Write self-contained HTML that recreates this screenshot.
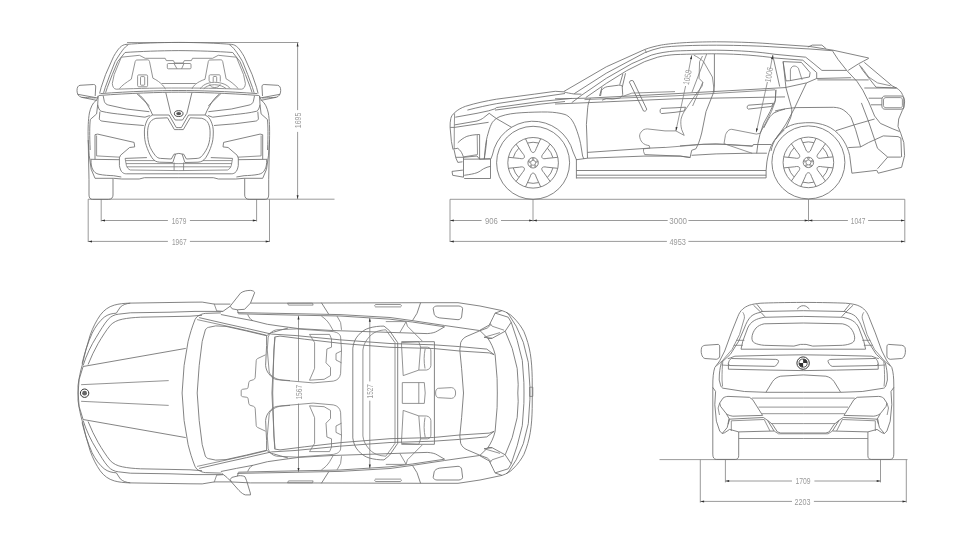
<!DOCTYPE html>
<html><head><meta charset="utf-8">
<style>
html,body{margin:0;padding:0;background:#fff;}
body{width:967px;height:546px;overflow:hidden;font-family:"Liberation Sans",sans-serif;}
svg{display:block;position:absolute;left:0;top:0;will-change:transform;transform:translateZ(0);}
.d{stroke:#808080;stroke-width:.8;fill:none;}
.c{stroke:#6e6e6e;stroke-width:.85;fill:none;stroke-linejoin:round;stroke-linecap:butt;}
.l{stroke:#787878;stroke-width:.8;fill:none;stroke-linejoin:round;stroke-linecap:butt;}
.a{fill:#2e2e2e;stroke:none;}
text{font-family:"Liberation Sans",sans-serif;font-size:8.6px;fill:#9a9a9a;text-anchor:middle;}
</style></head><body>
<svg width="967" height="546" viewBox="0 0 967 546">
<defs>
<path id="ar" d="M0 0L3.8 -1L3.8 1Z"/>
</defs>
<!-- ===== DIMENSIONS: FRONT ===== -->
<g id="dimFront">
<path class="d" d="M127 42.5H298.5M88.2 199.2H334.5M88.2 199.2V242M269.5 199.2V242M101.2 199.2V221.5M256.6 199.2V221.5M297.6 42.5V110.1M297.6 131.9V199"/>
<path class="d" d="M101.2 220.5H167.9M189.9 220.5H256.6M88.2 241.4H167.9M189.9 241.4H269.5"/>
<use href="#ar" class="a" transform="translate(101.2 220.5) rotate(0)"/>
<use href="#ar" class="a" transform="translate(256.6 220.5) rotate(180)"/>
<use href="#ar" class="a" transform="translate(88.2 241.4) rotate(0)"/>
<use href="#ar" class="a" transform="translate(269.5 241.4) rotate(180)"/>
<use href="#ar" class="a" transform="translate(297.6 42.7) rotate(90)"/>
<use href="#ar" class="a" transform="translate(297.6 199) rotate(-90)"/>
<text x="179" y="223.6" textLength="14.7" lengthAdjust="spacingAndGlyphs">1679</text>
<text x="179.3" y="244.5" textLength="14.7" lengthAdjust="spacingAndGlyphs">1967</text>
<text transform="translate(301 120.4) rotate(-90)" textLength="15.6" lengthAdjust="spacingAndGlyphs">1695</text>
</g>
<!-- ===== DIMENSIONS: SIDE ===== -->
<g id="dimSide">
<path class="d" d="M450 199.3H904.8M450 199.3V242M904.8 199.3V242.4M533 199.3V221.5M808.5 199.3V221.5"/>
<path class="d" d="M450 220.5H481.6M501 220.5H667.7M688.4 220.5H847.9M868.1 220.5H904.8M450 241.4H666.9M688.4 241.4H904.8"/>
<use href="#ar" class="a" transform="translate(450 220.5) rotate(0)"/>
<use href="#ar" class="a" transform="translate(533 220.5) rotate(180)"/>
<use href="#ar" class="a" transform="translate(533 220.5) rotate(0)"/>
<use href="#ar" class="a" transform="translate(808.5 220.5) rotate(180)"/>
<use href="#ar" class="a" transform="translate(808.5 220.5) rotate(0)"/>
<use href="#ar" class="a" transform="translate(904.8 220.5) rotate(180)"/>
<use href="#ar" class="a" transform="translate(450 241.4) rotate(0)"/>
<use href="#ar" class="a" transform="translate(904.8 241.4) rotate(180)"/>
<text x="491.4" y="223.6" textLength="12.9" lengthAdjust="spacingAndGlyphs">906</text>
<text x="678.2" y="223.6" textLength="17.7" lengthAdjust="spacingAndGlyphs">3000</text>
<text x="858.1" y="223.6" textLength="14.7" lengthAdjust="spacingAndGlyphs">1047</text>
<text x="677.7" y="244.5" textLength="16.5" lengthAdjust="spacingAndGlyphs">4953</text>
</g>
<!-- ===== DIMENSIONS: REAR ===== -->
<g id="dimRear">
<path class="d" d="M659.5 459.6H907.5M700.3 459.6V502.6M906.3 459.6V502.6M725.4 459.6V482.4M880.5 459.6V482.4"/>
<path class="d" d="M725.4 481H792M814.4 481H880.5M700.3 501.4H792M813.9 501.4H906.3"/>
<use href="#ar" class="a" transform="translate(725.4 481) rotate(0)"/>
<use href="#ar" class="a" transform="translate(880.5 481) rotate(180)"/>
<use href="#ar" class="a" transform="translate(700.3 501.4) rotate(0)"/>
<use href="#ar" class="a" transform="translate(906.3 501.4) rotate(180)"/>
<text x="803" y="484.1" textLength="15.1" lengthAdjust="spacingAndGlyphs">1709</text>
<text x="802.5" y="504.5" textLength="16" lengthAdjust="spacingAndGlyphs">2203</text>
</g>
<!-- ===== DIMENSIONS: TOP ===== -->
<g id="dimTop">
<path class="d" d="M298.5 315.8V381.4M298.5 403.6V471.8M369.8 318V381.4M369.8 400.7V468.4"/>
<use href="#ar" class="a" transform="translate(298.5 315.8) rotate(90)"/>
<use href="#ar" class="a" transform="translate(298.5 471.8) rotate(-90)"/>
<use href="#ar" class="a" transform="translate(369.8 318) rotate(90)"/>
<use href="#ar" class="a" transform="translate(369.8 468.4) rotate(-90)"/>
<text transform="translate(301.6 392.2) rotate(-90)" textLength="14.8" lengthAdjust="spacingAndGlyphs">1567</text>
<text transform="translate(373.2 391.3) rotate(-90)" textLength="14.2" lengthAdjust="spacingAndGlyphs">1527</text>
</g>
<!-- CARS -->
<g id="front" class="c">
<g id="fh">
<!-- roof + A pillar -->
<path d="M178.85 42.4C160 42.5 140 43.2 126 44.4C121.5 44.9 118.5 48 113.6 56.5L105.6 74.5L101.2 87.3L99.6 93.5"/>
<path d="M128.3 44.7C124.5 47 121.3 51.4 115.1 61.6L110 74.5L105.3 87.3L103.6 92.8"/>
<path d="M178.85 50.6C160 50.7 140 51.4 125 52.5L117.7 61.6L112.3 74.5L107.4 87.3L105.6 92.6"/>
<!-- headliner / inner windshield edge -->
<path class="l" d="M121.3 57.2L139.4 55.3L145.2 58.3L165.2 58.3L166.3 60.6L173.4 60.6L174.6 63L178.85 63"/>
<path class="l" d="M121.3 57.2L114.2 74.5L112.3 83.4C112.5 87 114 89 116.2 89.2"/>
<!-- windshield bottom -->
<path class="l" d="M116.2 89.2C140 88.3 160 88 178.85 88"/>
<path d="M100.4 93.6C130 91.4 160 90.5 178.85 90.5"/>
<path d="M98.8 95.5C130 93.2 160 92.2 178.85 92.2"/>
<!-- mirror -->
<path d="M95.6 98C90 97.8 84 97.5 81.5 97.3C78.5 96.5 77 94 77 90.5C77 87.5 78 85.6 80 85.3L93.5 84.5C95.2 84.5 95.8 85.5 95.7 87L95.2 96"/>
<path d="M77.7 94.3L97.7 98"/>
<path d="M81.5 97.3L97 100.4"/>
<!-- fender / body side -->
<path d="M98.2 95.8C97.5 98 97 99.5 96 100.5C92.5 103 90.5 108 89.4 113C88.2 120 87.9 128 88.2 140L89.2 155.2L91.2 169.3L95 178.3"/>
<path d="M97.7 104.6L96.6 113.9L90.3 119.5C89.6 126 89.5 135 90.2 150"/>
<!-- hood edge / headlight -->
<path d="M98.2 95.8L97.7 104.6C98.3 108 99.5 110.5 101 111.2C108 113 116 113.8 123 114.5L145 117.2L149.8 115.5"/>
<path d="M103.2 95.8L104.3 101.3C105 103.5 106.5 104.6 108.7 105.1L126.3 109L149.3 111.7"/>
<path d="M99.9 111.7L99.3 118.9C99.8 120.3 100.8 120.9 102.1 121.1L123 123.8L143.8 125.5"/>
<path d="M138.4 94.1C141.5 96.5 144 99.5 146 102.4L150.4 110L152.6 115"/>
<path d="M136.8 93.6L149.5 106"/>
<!-- hood centre crease around logo -->
<path d="M165.8 92.7L170.8 113.4L175.2 120L178.85 120"/>
<!-- kidney grille -->
<path d="M152.6 115L169.1 115L176.3 127.6L178.85 127.6"/>
<path d="M152.6 115C149.5 116.5 147.8 118.5 146.8 121C145 125 144.4 128 144.4 132C144.4 138 145 142 146.3 145.5C147.5 149.5 149.5 154 152 157.8C154 160.5 156 162 159.7 162.2L172.8 162.5L175.6 154L178.85 153.4"/>
<path d="M155.9 118.3L167.5 117.8L174.4 129.6L178.85 129.6"/>
<path d="M155.9 118.3C152.5 119.3 150.5 121 149.3 123.5C148 126.5 147.6 129 147.6 133C147.6 138 148.2 141.5 149.3 145C150.5 148.5 152.5 152 155.3 155.5C157 157.5 158.5 158.3 160.5 158.4L171.3 159L174 154.2L175.6 154"/>
<!-- air intake -->
<path d="M95 159.3L95 134.7L97.6 134.1L134.1 142.4L134.7 146.9L129.6 147.5L120.6 155.2L119.4 157.8"/>
<path class="l" d="M96.6 135.5L96.6 155.9L120 157.2"/>
<!-- bumper -->
<path d="M90.5 159.3L119.4 159.7"/>
<path d="M91 159.5C91 164 91.3 166.5 92.5 169C94 172.3 96 173.6 99 174.3C104 175.3 109 175.5 113.6 175.7L121.3 177"/>
<path d="M95 178.3L113.6 178.3L121.9 179L139.2 179L144.4 177.7L178.85 177.7"/>
<!-- lower grille -->
<path d="M119.4 157.8L119.4 165.5C120 169 121 171.5 122.6 172.6C124 173.6 125 173.8 126.4 173.8L178.85 173.8"/>
<path d="M125.1 158.4L146.9 157.6"/>
<path class="l" d="M125.1 158.4L126.4 165.5C127 167.5 128.3 169.3 130.3 170L178.85 170.6"/>
<path class="l" d="M125.8 160.6L155 160.6M126 163.6L178.85 163.6M127 166.8L178.85 166.8"/>
<path class="l" d="M174.1 162.5L174.1 170.6"/>
<!-- tyre -->
<path d="M88.2 140L88.6 160L89 179.6L89 195C89 198 90.5 199.4 92.4 199.4L108.5 199.4C111.5 199.4 113 197.5 113 195L113 178.5"/>
</g>
<use href="#fh" transform="translate(357.7 0) scale(-1 1)"/>
<!-- rear-view mirror -->
<path class="l" d="M168.3 63.5H190C190.8 63.5 191 64 191 64.6V67.8C191 68.5 190.6 68.8 190 68.8H168.3C167.6 68.8 167.3 68.4 167.3 67.8V64.6C167.3 63.9 167.7 63.5 168.3 63.5ZM174 63.5L177 68.8M184 63.5L181.6 68.8"/>
<!-- left seat -->
<path class="l" d="M119.4 88.6C122 85.5 126 82.5 131.3 79.2L135.2 61.5C135.5 60.4 136 60.1 137 60L147.5 59.8C148.6 59.8 149.2 60.4 149.5 61.5L152.9 78.2C157 80 160.5 82.9 162.5 85C164 86.8 165 88 165.4 89.2"/>
<path class="l" d="M139 74.9H146.3C147.2 74.9 147.6 75.4 147.6 76.3V85.3C147.6 86.3 147.2 86.8 146.3 86.8H139C138 86.8 137.6 86.3 137.6 85.3V76.3C137.6 75.4 138 74.9 139 74.9Z"/>
<path class="l" d="M141.3 76.6H143.9C144.5 76.6 144.7 77 144.7 77.5V84.3C144.7 84.9 144.4 85.2 143.9 85.2H141.3C140.7 85.2 140.5 84.8 140.5 84.3V77.5C140.5 76.9 140.8 76.6 141.3 76.6Z"/>
<!-- right seat -->
<path class="l" d="M192.1 88.8C192.8 87 194 85.5 195.7 84.1C198 82.3 201 80.6 205 79.3L208.3 61.5C208.5 60.4 209 60.1 210 60L220.7 59.8C221.8 59.8 222.4 60.4 222.7 61.5L226.1 78.8C230 81 234 84 238.3 88.6"/>
<path class="l" d="M210.5 81.9C209.5 81.9 209.1 81.4 209.1 80.4V76.3C209.1 75.3 209.6 74.8 210.5 74.8H219C219.9 74.8 220.3 75.3 220.3 76.3V81.6"/>
<path class="l" d="M213.2 81.8V77.4C213.2 76.8 213.5 76.5 214 76.5H215.9C216.5 76.5 216.7 76.9 216.7 77.4V81.8"/>
<!-- steering wheel -->
<path class="l" d="M200.3 88.8C202 85.6 207 82.4 214.4 82.3C222 82.3 227.5 85 230 88.3"/>
<path class="l" d="M203.8 88.8C205.5 86.6 209.5 84.7 214.4 84.7C219.5 84.7 223.5 86.5 226 88.5"/>
<path class="l" d="M209.7 84.2C210.5 86.6 212 87.5 214.8 87.5C217.5 87.5 219.3 86.5 220.3 84.2"/>
<!-- dash line between seats -->
<path class="l" d="M161.7 83.5H195.7"/>
<!-- logo -->
<ellipse cx="178.7" cy="113.6" rx="4.3" ry="2.9" style="stroke:#333;stroke-width:.9"/>
<ellipse cx="178.7" cy="113.6" rx="2.5" ry="1.6" style="fill:#555;stroke:none"/>
</g>

<g id="side" class="c">
<!-- ==== front end ==== -->
<path d="M454.6 112.7C458 109.5 461.5 107.8 465.5 106.3C476 103 486 101 496.3 99.2L534.7 94.1L555.3 91.3L563.3 91.8"/>
<path d="M467.4 110.1C478 107.3 488 105.3 496.3 103.7L534.7 97.9L565 93.5"/>
<path d="M455.3 117.2L477 113.3L488.6 110.8L495 108.8L496.3 107.6L540 101.5L571.7 98.4"/>
<path d="M495 110.1L540 104.2L565 101.5"/>
<path d="M454.6 112.7C452.5 114.5 451.2 116.5 450.8 118.5C450.2 121.5 450 124 450.1 127.4L451.4 141.5L453 149.5"/>
<path class="l" d="M454.6 113.3L454.3 128L454.2 149"/>
<path d="M450.1 127.4L454.6 127.4L488.6 122.3"/>
<path d="M454.6 124.9L477 121C480 120 482 119 483.5 117.8L489.2 113.3"/>
<path d="M489.2 113.3L496.3 118.5L511.7 127.4"/>
<!-- side air intake -->
<path d="M457.8 142.8C460.5 140 463.5 137.8 466.8 136.4C470.5 135.2 475 134.6 479.6 134.5L479.6 159.2"/>
<path class="l" d="M477.2 135L477.5 154.6L464 156.8"/>
<!-- front bumper -->
<path d="M453.3 149L457.8 148.3C460 150 461.5 152 462.3 154.1L463.6 157.3"/>
<path d="M454 149.5L455.9 158L457.8 162.4L462.5 161.8"/>
<path d="M455.9 157.3L463.6 157.3L477 156L479.6 159.2L490.5 158.7"/>
<path d="M463.5 157.3L463.5 177.2"/>
<path d="M463.6 159.2L490.5 159L490.5 178.5L464.2 178.5"/>
<path d="M464.2 175.3C470 174.5 474 173.8 477 172.7C480 171.5 481.5 170 483.5 168.8C486 167.5 488 166.8 490.5 166.3"/>
<path d="M452 171.4L462.9 170.1M452 171.4L452.7 175.3L463.6 177.2"/>
<path d="M486.7 140L485.6 150L484.1 159.2"/>
<!-- front fender arch & wheel arch -->
<path d="M484.5 159C484.8 150 486 140 488 133.8C489.5 128 491 124.5 492.4 122.3C494.5 119.5 497 117.8 500.1 116.5C507 114 514 113.2 521.9 112.7C530 112.2 540 111.9 547.6 112C554 112.2 560 113 565 114.5C569 116 572.5 119.5 575.5 127C578 133.5 579.5 138.5 580.6 143.7L582.6 156L583.9 159"/>
<path d="M490.8 159L492.4 155A41.4 41.4 0 0 1 573.1 152L576.4 159.7"/>
<!-- sill -->
<path d="M576.4 159L576.4 178.5M576.4 170.5H766.1M576.4 175.2H766.1M576.4 177.9H766.1"/>
<path d="M576.6 159.7L587.5 158.2L644 156.1L680.2 156.1L690.3 157.5"/>
<path d="M766.1 177.9L766.1 170.5L766.9 161.9C768 155 769.5 150 771.2 145.9C773 142 775.5 138.5 778.5 135.8L784.2 130"/>
<!-- door bottom -->
<path d="M587.5 152.4L649.8 148.1L665 147.4"/>
<path d="M644.7 154.6L680.2 156.1L690.1 157.5L691.7 150.3L695.9 148.8C698 145 700 140 701.7 133L706 111.6L713.1 93.7L714.4 86L714.4 54"/>
<path d="M680 145.9L698.8 144.5L716.2 143.8L726.3 144.5L752.4 145.9L753.8 144.5L771.2 144.5"/>
<path d="M691.6 155.3L716.2 153.9L750.9 153.2L766.9 153.2"/>
<!-- front door cut -->
<path d="M590.3 98.2C588.8 101.5 588 104.5 587.7 107.8L586.4 124.5L587 140L587.5 158.2"/>
<!-- A pillar, roof -->
<path d="M563.3 91.8L606.3 66.8L644.7 49.5C650 47.5 656 46 661.4 45C672 43.2 690 41.9 716.3 41.8C740 41.9 760 42.8 775 44.1L810.1 46.5L833.6 50.3L868.7 58"/>
<path d="M574.2 93.7L606.3 73.2L644.7 52.7C650 50.5 656 48.8 661.4 47.5C672 45.8 695 45.2 716.3 45.2C740 45.3 760 46 775 47L810 49L833.6 50.8"/>
<path class="l" d="M644.7 49.5L646.6 52.7"/>
<path d="M571.7 102.7L581.9 95L606.3 78.3L631.9 63.6L651.2 55.2C658 53 668 51.5 675 51C690 50.4 705 50.2 716.3 50.2C740 50.4 760 52 775 54.3L805.7 57.2L813.1 63.1L821.9 70.4L846.7 70.4"/>
<path d="M585.8 97.5L606.3 83.4L626.8 70.6L644.7 61.6L657.6 57.2C664 55.6 670 54.9 675 54.6C690 54 705 53.8 716.3 53.8C740 54 760 55.8 775 58L802.8 60.2L810.1 66.7L816.7 72.6L816.7 78.5L851.1 77.7"/>
<path d="M817.4 79.9L868.7 79.9"/>
<!-- beltline -->
<path d="M555 98.8L587 98.2L675 93.7L785 87.6L806.5 82.9L816.7 78.5"/>
<path class="l" d="M584.5 99.6L675 95.8L775 89.8"/>
<path d="M555 104L587 102.7L675 98.8L785 96.9"/>
<path class="l" d="M623 96.3L631.9 93.1L675 91.6"/>
<!-- mirror -->
<path d="M599.5 96L602 87.2"/>
<path d="M600.5 96L601.5 90.3C603 88.3 605 87.2 607.2 86.7L618.6 85.2C620.8 85.1 622 85.5 622.2 86.2L622.7 94.5C622 96.5 621 97.6 619.6 98.1L612.4 99.1L606.2 98.6L602 100.2"/><path d="M563.8 91.9C567 92.8 570 93.4 574.1 94L581.4 94.2"/>
<path d="M619.7 84.7L622.9 73.8M622.3 87L625.5 73.2"/>
<!-- steering wheel -->
<path d="M629.4 82.2C629.6 80.6 632 80 633.2 80.9L646.7 109.1C646.5 111 644.5 111.6 643.5 111L629.4 82.2Z"/>
<!-- door handles -->
<path d="M675 107.8L661.4 108.4C659.6 109 659.6 112.8 661.4 113.6L675 112.3L684.2 111L685.5 107.2L675 107.8"/>
<path d="M748.3 105.2C746.8 106 746.8 108.8 748.3 109.1L771.4 106.5L773.3 103.3L748.3 105.2Z"/>
<!-- front seat -->
<path class="l" d="M675.9 130.9L665 130.9L647.3 128.9C644.5 129 642.8 129.8 642.2 130.9C640.5 132.5 639.6 134 639.6 136C639.8 138.5 640.8 140.8 642.2 142.4C644 144.5 646.5 145.2 649.2 145.6L649.9 148.2L643.5 148.8L643.5 151.4L644.7 154.6"/>
<path class="l" d="M675.9 130.9L684.2 135.4L681.7 129.6C680.8 126 680.6 122.5 681 119.3C681.8 116 683 113.5 684.2 111.6L694.5 96.3L702.2 86L702.8 82.2L699 78.3L699.6 61.6"/>
<path class="l" d="M706.7 54L691.9 92.4M699.6 61.6L702.5 56M702.8 82.2L699.6 89.8L692.6 106"/>
<path class="l" d="M693.8 55.2C698 57 701 59.5 703.5 61.6L712.4 77L714.4 92.4"/>
<!-- rear seat -->
<path class="l" d="M756.3 134.1L731.7 129.3C729.5 129.3 728 130.5 727 132C725.8 134 725.3 135 725.3 136L724 143.7L752.2 153.3"/>
<path class="l" d="M756.3 134.1L759.9 133.4L766.3 121.6L771.4 111.6L775.3 101.4L775.9 89.8"/>
<!-- floor -->
<path class="l" d="M665 147.5L703.5 144.3L724 144.3L752.2 146.3L753.5 144.3"/>
<!-- rear door cut -->
<path d="M775.9 89.8L775.3 100.2L770.1 111.6L763.7 123.2L759.9 134.7L757.9 143.7L756.7 153.3"/>
<!-- rear fender arch -->
<path d="M785 109.1C781 110 777.5 111.2 774 112.9C771 115 769 117.8 767.6 120.6L763.7 128"/>
<path d="M775 111C782 109 790 108 797 107.6L833.6 107.3C838 107.5 841.5 108.5 843.8 110.2C847 112.5 849.5 115 851.1 117.6L855.5 129.3L860.6 146.9"/>
<path d="M771 151C772 146 773.5 142 776.5 137.5C779 133.5 781.5 131 783.8 129.3C788 126 793 124.2 798.4 123.4C803 122.7 808 122.5 813.1 122.7C820 123.5 825.5 125 830.6 127.8C836 131 840.5 135.5 843.8 141C846.5 145.5 848.5 150 849.7 155.6L851.9 173.2"/>
<!-- C pillar & quarter window -->
<path d="M772.7 55.2L779.7 86.6"/>
<path d="M783.1 61.6L801.4 62.4L810.1 72.6L809.4 77L789.6 80.7L786 80.9Z"/>
<path class="l" d="M790.4 80.7L790.4 69.7C791 67.5 792.5 66 794 66C796 66 797.5 67 798.4 68.2L802.1 79.9"/>
<path d="M783.1 61.6L786 88L791.1 106.3C792.3 110 792 114 790.5 118L786 128"/>
<path d="M806.5 82.9L794 109.2L786 124L776 139"/>
<!-- shark fin -->
<path d="M807.9 47L812.3 45.1L821.9 45.1L826.2 48.8"/>
<!-- spoiler & tailgate -->
<path d="M868.7 58.4L858.5 63.8L848.2 70.4"/>
<path d="M832.8 51.4L838 59.4L846.7 70.4L857 81.4L862.8 90.2L868.7 101.9L874.6 116L880.4 123.4L892.1 128.6L899.5 131.5"/>
<path d="M859.2 64.6L862.8 70.4L876 87.2L896.5 88"/>
<path d="M864.3 62.4L892.1 85.8L896.5 88C899.5 90 901.5 92 902.4 94.6C903.8 97 904.6 99.5 904.6 101.9L903.8 108L902.4 110.2L898.7 119L898 126.4L900.9 133.7L903.8 142.5L904.6 155.6L901.6 167.3L878.2 173.2L876.8 170.3L851.9 173.2"/>
<path class="l" d="M861 66.5L868.7 77L877.5 82.9L890.7 85.8"/>
<path d="M864.3 88L896.5 88M868.7 98.2L881.9 98.2M870.9 104.8L881.9 104.8"/>
<!-- taillight -->
<path d="M885 96H901C903 96 903.8 97.5 903.8 99.5V106C903.8 108 902.8 109.2 901 109.2H885C883 109.2 881.9 108 881.9 106V99.5C881.9 97.5 883 96 885 96Z"/>
<path class="l" d="M886 97.6H900.3C901.8 97.6 902.4 98.6 902.4 100V105.4C902.4 106.8 901.8 107.7 900.3 107.7H886C884.4 107.7 883.5 106.8 883.5 105.4V100C883.5 98.6 884.4 97.6 886 97.6Z"/>
<!-- rear quarter lines -->
<path d="M835.8 130.7L854.1 124.9L874.6 119"/>
<path d="M848.2 147.6L860.6 146.9L868.7 142.5L883.3 135.9L898 136.6L900.9 138.1L901.6 157.1"/>
<path d="M861.4 102.9L868.7 122L874.6 139.5L877.5 148.3L887.7 157.1L900.9 157.1"/>
<path d="M887.7 157.1L877.5 168.8"/>
<circle cx="533.1" cy="162.8" r="36.5"/>
<circle cx="533.1" cy="162.8" r="25.3"/>
<circle cx="533.1" cy="162.8" r="5.2"/>
<circle cx="533.1" cy="162.8" r="2.5" class="l"/>
<circle cx="533.1" cy="158.9" r=".8" class="l"/>
<circle cx="529.4" cy="161.6" r=".8" class="l"/>
<circle cx="530.8" cy="166.0" r=".8" class="l"/>
<circle cx="535.4" cy="166.0" r=".8" class="l"/>
<circle cx="536.8" cy="161.6" r=".8" class="l"/>
<path d="M525.5 138.7L530.0 148.6C530.8 151.4 532.0 152.6 533.1 152.5C534.2 152.6 535.4 151.4 536.2 148.6L540.7 138.7M538.5 143.0A20.5 20.5 0 0 0 527.7 143.0M508.4 157.3L519.3 158.4C522.1 159.1 523.7 158.6 524.2 157.7C524.8 156.7 524.4 155.1 522.4 153.0L516.0 144.1M518.7 148.3A20.5 20.5 0 0 0 513.3 157.6M516.0 181.5L522.4 172.6C524.4 170.5 524.8 168.9 524.2 168.0C523.7 167.0 522.1 166.5 519.3 167.2L508.4 168.3M513.3 168.0A20.5 20.5 0 0 0 518.7 177.3M540.7 186.9L536.2 177.0C535.4 174.2 534.2 173.0 533.1 173.1C532.0 173.0 530.8 174.2 530.0 177.0L525.5 186.9M527.7 182.6A20.5 20.5 0 0 0 538.5 182.6M557.8 168.3L546.9 167.2C544.1 166.5 542.5 167.0 542.0 168.0C541.4 168.9 541.8 170.5 543.8 172.6L550.2 181.5M547.5 177.3A20.5 20.5 0 0 0 552.9 168.0M550.2 144.1L543.8 153.0C541.8 155.1 541.4 156.7 542.0 157.7C542.5 158.6 544.1 159.1 546.9 158.4L557.8 157.3M552.9 157.6A20.5 20.5 0 0 0 547.5 148.3"/>
<circle cx="808.4" cy="162.4" r="36.5"/>
<circle cx="808.4" cy="162.4" r="25.3"/>
<circle cx="808.4" cy="162.4" r="5.2"/>
<circle cx="808.4" cy="162.4" r="2.5" class="l"/>
<circle cx="808.4" cy="158.5" r=".8" class="l"/>
<circle cx="804.7" cy="161.2" r=".8" class="l"/>
<circle cx="806.1" cy="165.6" r=".8" class="l"/>
<circle cx="810.7" cy="165.6" r=".8" class="l"/>
<circle cx="812.1" cy="161.2" r=".8" class="l"/>
<path d="M800.8 138.3L805.3 148.2C806.1 151.0 807.3 152.2 808.4 152.1C809.5 152.2 810.7 151.0 811.5 148.2L816.0 138.3M813.8 142.6A20.5 20.5 0 0 0 803.0 142.6M783.7 156.9L794.6 158.0C797.4 158.7 799.0 158.2 799.5 157.2C800.1 156.3 799.7 154.7 797.7 152.6L791.3 143.7M794.0 147.9A20.5 20.5 0 0 0 788.6 157.2M791.3 181.1L797.7 172.2C799.7 170.1 800.1 168.5 799.5 167.6C799.0 166.6 797.4 166.1 794.6 166.8L783.7 167.9M788.6 167.6A20.5 20.5 0 0 0 794.0 176.9M816.0 186.5L811.5 176.6C810.7 173.8 809.5 172.6 808.4 172.7C807.3 172.6 806.1 173.8 805.3 176.6L800.8 186.5M803.0 182.2A20.5 20.5 0 0 0 813.8 182.2M833.1 167.9L822.2 166.8C819.4 166.1 817.8 166.6 817.3 167.6C816.7 168.5 817.1 170.1 819.1 172.2L825.5 181.1M822.8 176.9A20.5 20.5 0 0 0 828.2 167.6M825.5 143.7L819.1 152.6C817.1 154.7 816.7 156.3 817.3 157.2C817.8 158.2 819.4 158.7 822.2 158.0L833.1 156.9M828.2 157.2A20.5 20.5 0 0 0 822.8 147.9"/>

<!-- dimension lines inside cabin -->
<path class="d" d="M691.7 55.2L688.6 71M685.6 86L675.9 130.9M772.7 55.2L770.2 69M767.4 82L756.3 132.2"/>
<use href="#ar" class="a" transform="translate(691.7 55.4) rotate(101)"/><use href="#ar" class="a" transform="translate(675.9 130.9) rotate(-79)"/>
<use href="#ar" class="a" transform="translate(772.7 55.4) rotate(100.5)"/><use href="#ar" class="a" transform="translate(756.3 132.2) rotate(-79.5)"/>
<text style="stroke:none" transform="translate(690.2 78) rotate(-79)" textLength="14.9" lengthAdjust="spacingAndGlyphs">1058</text><text style="stroke:none" transform="translate(771.8 75.3) rotate(-80)" textLength="15.2" lengthAdjust="spacingAndGlyphs">1006</text>
</g>

<g id="top" class="c">
<g id="th">
<!-- outer body -->
<path d="M78.1 393L78 385.7C79 378 80.5 371 82.1 365.5C84.5 355 87 345 90.1 335.3C93 327 96.5 320.5 100.2 315.2C104 310 108.5 306.8 114.3 305.1C119 303.8 124 303.3 130.4 303.1L190 302.2L202.2 302.1L214.3 304.1L230.4 304.1M250.5 303.1L290 303.1L425 302.7L458 302.7L480 306L502 310.6C507 312.3 510.5 314.5 512.9 317C518 322 521.5 327 523.9 331.6C527 339 529 346 530.3 353.6C531.5 361 532 369 532.2 377.4L532.3 393"/>
<path d="M82.1 363.5C84.5 353 88 342.5 92.1 333.3C95.5 326.5 99.5 321 104.2 317.2C108 314.3 112 313.4 116.3 313.2L120.3 307.1C123 304.8 126 303.5 130.4 303.2"/>
<path d="M83.1 365.5C86.5 355 91 345.5 96.2 337.3C100 331 104 324 108.3 319.2C111 316.3 114.5 314.6 118.3 314.2L130.4 312.8L170 312.2L195 311.4L222.9 311.4"/>
<path d="M88.1 364.5C91 357 94.5 350 98.2 343.4C102 337 106 330.5 110.3 325.3C113.5 322 117.5 320.2 122.3 319.2C128 318 134 317.5 140.5 317.2L190 316.2L202 315.3"/>
<!-- hood creases -->
<path d="M83.1 366.5L185.8 348.4"/>
<path class="l" d="M81.1 384.7L168.7 380.6"/>
<path d="M83.1 366.5L79.1 379.6L78.1 393"/>
<!-- mirror -->
<path d="M237.4 309.8L238.4 313.4"/>
<path class="l" d="M214.1 303.6L216.7 310.9L222.9 311.4"/>
<!-- second body lines -->
<path d="M237.4 312.6L280 313.4L340 314.6L390 317.5L412.3 320.6L444.6 325.5L479.4 330.5"/>
<path d="M238.4 313.8L280 314.8L340 316L390 319.2L412.3 322L444.6 326.8"/>
<!-- door handles -->
<path class="l" d="M287.5 303.2L312.5 303.2L313.1 305.1L288.5 305.1Z"/>
<path class="l" d="M375.5 304.5H400.6C401.6 305 401.6 306.4 400.6 306.9H375.5C374.5 306.4 374.5 305 375.5 304.5Z"/>
<!-- windshield -->
<path d="M182.1 393L184.1 365.5L188.1 341.4C190 334 192 327 195 319.6C196.3 317.3 197.5 316 199.1 315.5C201 314.3 203 313.6 205.3 313.4L220.9 312.9"/>
<path d="M220.9 314.5L236.4 317.6L252.9 320.7L267.4 324.3L280 326.1L298.6 328.6L332.1 330.5L390 332.4L427.2 333.6C432 333.3 435 332.5 437.2 331.1L444.6 326.8"/><path d="M247.7 314.5C249 317.5 250.5 319.5 252.9 320.7"/>
<path class="l" d="M197.1 319.6L226 325.9L246.7 330.5L266.4 335.2"/>
<path d="M199.1 317.6L226 323.8L246.7 328.4L271.5 334.1L295 335.5L339.6 339.8L390 343.5L433.4 344.8L459.5 346.6L486.8 349.1L494.2 354.7"/>
<path d="M197.2 393L199.2 365.5L202.2 341.4L205.3 330C206.3 328.3 207.3 327.6 208.4 327.4L215.7 325.9L226 326.4L246.7 331L266.4 335.7"/><path d="M266.6 336C268 333.8 270.5 332.8 273.6 332.1L280.8 330L288 328"/>
<!-- roof front edge / header -->
<path d="M266.6 335.3L266.6 345.4L265.6 365.5C266 369 267 371.5 268.7 373.6C271 376.8 273.5 378.8 276.7 379.6L290 380.6"/>
<path d="M275.1 337.2L273.9 350L272.7 393"/>
<!-- IP -->
<path class="l" d="M265.6 354.8L257.5 358.6C256.5 359.2 256.2 360 256.2 361L255.2 377.5C255 378.6 254.5 379.3 253.5 379.7L250 380.8C249.2 381.2 248.9 381.8 248.8 382.6L248.1 387.3C248 388.2 247.5 388.6 246.8 388.7L242.6 389.3C241.6 389.5 241.2 390 241.2 391L241.2 393"/>
<!-- B pillar, roof rails -->
<path d="M321.4 302.7L328.7 314.2"/>
<path class="l" d="M321.4 316.1C325 318.5 327.5 321 329.6 324.3L333.3 330.7M337 316.1L340.6 322.5L341.5 329.8"/>

<path d="M274.5 337L280 336.1L304.8 339.2L342 343.5L390 347.3L433.4 348.5L459.5 351L489.3 352.9L494.2 354.7"/>
<!-- front seat -->
<path class="l" d="M267.3 350L268.2 337.1C269.5 333 272.5 330.5 276.5 329.8L296.6 328.9L333.3 331.6C338 332.5 340.3 334.5 340.6 337.1L341.5 350L340.6 373.8C339.8 378 337.5 380.3 333.3 381.1L313.1 382.9L282 380.2C275 379 270.5 376 269.2 372L267.3 350Z"/>
<path class="l" d="M309.5 334.4L329.6 334.4L331.5 339L331.5 347.2L326.9 349L326 362.8L330.5 367.4L330.5 375.6L324.1 379.3L309.5 380.2L313.1 372L314.6 368.3L314.6 342.6Z"/>
<path class="l" d="M341.5 350.9L336 353.6L336 360L341.5 362.8"/>
<path class="l" d="M274.7 337.1L271.9 393"/>
<!-- rear seat -->
<path d="M352.8 393L352.8 348.1C353.5 342.5 355.3 338.5 358.3 335.3C361.5 331.5 365 329.3 369.3 328C374 326.6 379 326.1 384 326.1L389.5 330.7L397.7 342.6L397.7 393"/>
<path class="l" d="M362.9 393L362.9 350C363.5 345.5 365 342 367.5 339C370 335.5 373 333 376.6 331.6C379.5 330.5 382.5 330 385.8 329.8L395 342.6L395 393"/>
<!-- C pillar -->
<path d="M420.6 302.7L417 313.3L412.4 320.7"/>
<path class="l" d="M385.8 321.6L404.1 321.6L406.1 321.8L399.9 332.4"/>
<path class="l" d="M406.1 321.8L407.4 326.2L414.8 333.6L422.3 341.1"/>

<path d="M479.4 330.5L489.3 325L493 317.5L495.1 313.1L502 310.6"/>
<!-- quarter window -->
<path d="M436.9 306L458.9 306C461.5 306.3 462.6 307.5 462.6 308.7L461.6 317C461 318.8 459.8 319.6 458 319.7L439.7 317.9C436.5 317.3 434.8 316 434.2 314.2L433.2 308.7C433.5 307 434.8 306.2 436.9 306Z"/>
<!-- parcel shelf, headrests -->
<path d="M401.4 341.7L434.4 341.7L434.4 393"/>
<path class="l" d="M401.4 342.6L418.8 341.7L420.6 347.2L418.8 370.1L403.2 375.6Z"/>
<path class="l" d="M420.6 347.2L427.5 347.2C429.8 347.5 430.8 348.8 430.9 351L430.9 365.5C430.6 368 429 369.6 426.5 370L418.8 370.1M425.2 348.8C423.8 355 423.8 362 425 368.5"/>
<path class="l" d="M402.3 393L402.3 382.6L424.3 382.6L425.2 393M418.8 382.6L418.8 393"/>
<path class="l" d="M435.6 393C435.6 390 436.5 388.6 438.5 388.3L451.5 387.6C454.5 388 455.6 390 455.6 393"/>
<!-- rear window / tailgate -->
<path d="M463.5 393L461.6 368.3L459.8 350L460.7 342.6C462 339.5 464 337.5 467.1 336.2L480 330.7L487.3 328L491 324.5"/>
<path d="M480 330.7L488 338.5L492.1 338.3M488 338.5C491 343 493.5 348 495.1 354.4L497.1 378.5L497.3 393"/>
<!-- tail lamp -->
<path d="M495.1 313.1L508.2 317.2L511.2 322.2L505.2 331.2L492.1 338.3L484 337.3"/>
<path class="l" d="M490.1 323.2L492.1 326.2L504.1 330.2M484 337.3L500 332.6"/>
<path d="M505.2 331.2L512.2 348.4L517.2 368.5L518.2 384.6L517.8 393"/>
<path d="M511.2 322.2L517.2 340.3L522.3 360.4L523.9 382.6L524 393"/>
<path d="M506 312.2C507.5 313 508.5 314 509.2 315.2L516.2 326.2L523.3 342.3L528.3 362.4L529.9 386.6L530 393"/>
</g>
<use href="#th" transform="translate(0 786) scale(1 -1)"/>
<!-- mirrors -->
<path d="M230.4 481.9L250.5 482.9"/>
<path d="M222.9 311.4L230.2 306.2L240.5 293.1C243.5 291 247 290.4 250.5 290.4C253 290.6 254.5 291.5 254.6 292.7L250.5 303.1L244.6 309.3L237.4 309.8L232.2 308.8L230.2 306.2"/>
<path d="M221.4 473L226.9 477.4L231.3 481.8L239 490.5C241.5 493 243.5 494.5 245.5 494.9L250.5 494.9L250.3 493L246.6 480.7L245 476.8C243.5 475.8 241 475.6 239 475.7L231.8 477.4L230.2 479.6L231.3 481.8"/>
<!-- logo -->
<circle cx="84.6" cy="393.2" r="4.2" style="stroke:#333;stroke-width:1"/>
<circle cx="84.6" cy="393.2" r="2.4" style="fill:#666;stroke:none"/>
<!-- rear latch -->
<path class="l" d="M529.6 387.2H532.8V396.4H529.6Z"/>
</g>

<g id="rear" class="c">
<g id="rh">
<!-- roof + outer body -->
<path d="M803.3 302.4C785 302.5 770 302.8 760.9 303.2C756 303.6 752 304.3 749.4 305.2C746.5 306.3 744.5 307.5 742.8 309C740.5 311 739 313.5 737.9 316.4L731.3 332.9L724.7 351L719.7 360.9L714.8 367.5C713.3 372 712.8 378 712.8 385L712.8 454.1C712.8 457.5 714 459.4 716.4 459.4L735.4 459.4C737.5 459.4 738.7 458 738.7 455.8L738.7 431.9"/>
<path d="M803.3 310.7L760.9 311.5"/>
<path d="M803.3 316.4L764.2 317.3C760 318 757 319 754.3 320.5C751 322.5 749 325 747.7 328L742.8 341.2L741 349.2L803.3 349.2"/>
<path d="M753.5 305.2L760.9 312.3L765 316.8M756.8 304.2L762.6 311.5"/>
<path class="l" d="M742.8 312.3C744 314 744.6 316 744.4 318.1L739.5 334.6L732.1 349.4L722.2 360.9L716.4 365.9"/>
<path d="M760.9 312.3C756.5 313 753.5 314.3 751 316.4C748 319.5 746 323.5 744.4 328L738.7 341.2L730.4 354.3L721.4 362.6"/>
<path class="l" d="M736.2 340.3L744.4 340.3M733.7 345.3L742.8 345.3"/>
<!-- shark fin -->
<path d="M797.2 309L799.8 306.8C800.8 306 801.8 305.7 803.3 305.7"/>
<!-- rear window -->
<path d="M803.3 323L764.2 323.8C760.5 324.6 758 326 756 328C753.5 331 752 334.5 751.9 337.9C752 340.5 752.8 342 754.3 342.8C757 344.3 760.5 345 764.2 345.3L793.9 346.1L800.5 344.4L803.3 344.4"/>
<!-- mirror -->
<path d="M718.1 344.4L704.9 345.3C702.8 345.8 701.9 346.6 701.6 347.7C701.1 350 701 352 701.6 354.3C702.3 356.8 703.3 358 704.9 358.5L716.4 359.3C718.5 358.8 719.5 357.8 719.7 356L719.7 346.9C719.6 345.2 719.1 344.5 718.1 344.4Z"/>
<!-- tailgate shoulder -->
<path d="M727.8 358.6L730.2 358L734.9 356.2L775.8 355.2L803.3 354.8"/>
<!-- taillight -->
<path d="M731.2 358.5L775.8 359.4C777.8 359.6 778.6 360.3 778.6 361.3C777.8 364 776.5 365.5 774.4 366.4L729.3 365.5L728.4 363.6C728.8 361 729.8 359.5 731.2 358.5Z"/>
<path d="M728.4 363.6L728.4 369.2L770 370.1L803.3 370.6"/>
<path class="l" d="M721.5 365L729.3 365.5"/>
<!-- body sides -->
<path d="M721.4 362.6C720.5 366 719.8 369.3 719.4 374L719.2 380L720.5 384.9C721 386.8 721.8 387.8 723 388.2L744.4 391.5L765.9 392.3L803.3 392.3"/>
<path class="l" d="M722.8 361.5C722.3 366 722 372 722 380L722.6 386.5"/>
<!-- plate recess -->
<path d="M765.9 392.3L772.5 381.6C774.5 378.8 777 377 780.7 376.2L803.3 374.9"/>
<!-- reflector -->
<path d="M719.7 403L723 398.1C724.5 397 726 396.5 728 396.4L749.4 397.3L752.7 399.7L762.6 415.4L732.9 416.2C730 415.8 728 415 726.3 413.7L720.5 406.3Z"/>
<!-- lower body -->
<path d="M712.8 387.4L715.6 391.5L714.8 404.7L716.4 421.2L719.7 431L722.2 433.5"/>
<path class="l" d="M719.7 403L718.1 408L719.5 415"/>
<path d="M726.3 413.7L729.6 419.5L728 424.4L727.1 427.7L722.2 433.5L724.7 432.7L729.6 429.4L738.7 431.9"/>
<path d="M728 424.4L728.8 419.2L763.4 417.5L767.5 420.3L774.1 431L738.7 431.9"/>
<path class="l" d="M731.3 431L731.3 420.8L764.2 419.5L770 431"/>
<!-- horizontal tailgate/bumper lines -->
<path class="l" d="M751.9 398.1H803.3M758.5 407.1H803.3M761.8 413.7H803.3M771.6 423.6H803.3"/>
<path d="M767.5 420.3L772.5 424.4L777.4 431.9L780.7 433L803.3 433"/>
<path class="l" d="M774.1 431L778.5 433.8L803.3 433.8"/>
<path class="l" d="M738.7 438.5L803.3 438.5"/>
</g>
<use href="#rh" transform="translate(1606.6 0) scale(-1 1)"/>
<!-- logo -->
<circle cx="803.1" cy="363.1" r="6.2" style="stroke:#333;stroke-width:1"/>
<circle cx="803.1" cy="363.1" r="4.1" style="stroke:#333;stroke-width:.8"/>
<path d="M803.1 359A4.1 4.1 0 0 1 807.2 363.1H803.1ZM803.1 367.2A4.1 4.1 0 0 1 799 363.1H803.1Z" style="fill:#333;stroke:none"/>
</g>

</svg>
</body></html>
